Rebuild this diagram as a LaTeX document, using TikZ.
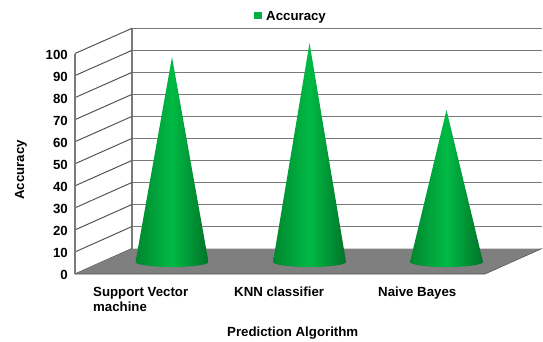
\documentclass[tikz,border=0pt]{standalone}
\usepackage{fontspec}
\setmainfont{Liberation Sans}
\definecolor{gridgray}{HTML}{7A7A7A}
\definecolor{floorgray}{HTML}{7F7F7F}
\definecolor{conedark}{HTML}{00872F}
\definecolor{conelight}{HTML}{00BA45}
\definecolor{legendgreen}{HTML}{00B140}
\begin{document}
\begin{tikzpicture}[x=1bp,y=-1bp,
  every node/.style={font=\bfseries\fontsize{13.3}{15}\selectfont, inner sep=0pt, text=black},
  gridline/.style={draw=gridgray, line width=1.5bp},
  sideline/.style={draw=gridgray!70!black, line width=1bp},
  conefill/.style={left color=conedark, right color=conedark!85!black, middle color=conelight}]
\useasboundingbox (0,0) rectangle (543,341);

% wall geometry: front plane x=75, back plane x=132, depth offset (57,-25.5)
\def\yf#1{274-2.205*#1}
\def\yb#1{248.5-2.202*#1}

% back wall grid lines
\foreach \v in {10,20,...,100}
  \draw[gridline] (132,{\yb{\v}}) -- (542,{\yb{\v}});
\draw[gridline] (132,{\yb{0}}) -- (132,{\yb{100}});

% left side wall
\foreach \v in {0,10,...,100}
  \draw[sideline] (75,{\yf{\v}}) -- (132,{\yb{\v}});
\draw[gridline] (75,{\yf{0}}) -- (75,{\yf{100}});

% floor
\fill[floorgray] (75,274) -- (485,274) -- (542,248.5) -- (132,248.5) -- cycle;
\draw[gridgray!70!black, line width=0.6bp] (75,274) -- (485,274) -- (542,248.5);

% cones
\foreach \cx/\ay in {172/57, 309.5/43, 446.5/110}
  \shade[conefill] (\cx-36.5,262) -- (\cx,\ay) -- (\cx+36.5,262)
    arc[start angle=0, end angle=180, x radius=36.5, y radius=5] -- cycle;

% y-axis tick labels
\foreach \v in {0,10,...,100}
  \node[anchor=east] (tick\v) at (68,{\yf{\v}+1}) {\v};

% axis titles
\node[rotate=90] (ytitle) at (21,170) {Accuracy};
\node[anchor=base west] (xtitle) at (227,336) {Prediction Algorithm};

% category labels
\node[anchor=base west] (cat1) at (93,296.5) {Support Vector};
\node[anchor=base west] (cat1b) at (93,311.5) {machine};
\node[anchor=base west] (cat2) at (234,296.5) {KNN classifier};
\node[anchor=base west] (cat3) at (378,296.5) {Naive Bayes};

% legend
\fill[legendgreen] (254,11.5) rectangle (262,18.5);
\node[anchor=base west] (legend) at (266,20) {Accuracy};
\end{tikzpicture}
\end{document}
